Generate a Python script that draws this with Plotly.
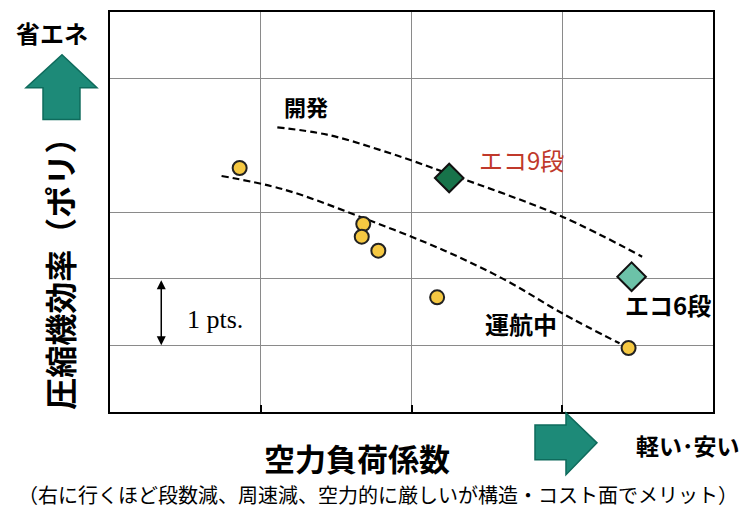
import plotly.graph_objects as go

# --- data (x: 空力負荷係数, y: 圧縮機効率, 1 unit = 1 pt) ---
fleet_x = [0.86, 1.68, 1.67, 1.78, 2.17, 3.44]
fleet_y = [3.66, 2.82, 2.63, 2.42, 1.72, 0.96]

eco9_x, eco9_y = [2.25], [3.51]
eco6_x, eco6_y = [3.46], [2.03]

dev_curve_x = [1.11, 1.44, 1.82, 2.25, 2.99, 3.53]
dev_curve_y = [4.27, 4.16, 3.91, 3.57, 2.94, 2.33]

ops_curve_x = [0.74, 1.15, 1.68, 2.22, 2.63, 3.00, 3.38]
ops_curve_y = [3.54, 3.34, 2.91, 2.42, 1.97, 1.48, 1.03]

x_grid = [1, 2, 3]
y_grid = [1, 2, 3, 5]

FONT = "Noto Sans CJK JP"
TEAL = "#1d8a78"
TEAL_EDGE = "#0e6b5c"

# page body adds an 8px margin, so work in screen pixels and shift back
OFF = 8
W, H = 756 - OFF, 512 - OFF
L_PX, R_PX, T_PX, B_PX = 110, 713, 10, 412   # plot frame on screen


def px(x, y):
    """screen pixel -> paper coords"""
    return (x - L_PX) / (R_PX - L_PX), (B_PX - y) / (B_PX - T_PX)


def poly_path(pts):
    pp = [px(x, y) for x, y in pts]
    return "M " + " L ".join(f"{a:.4f},{b:.4f}" for a, b in pp) + " Z"


fig = go.Figure()

for cx, cy in [(dev_curve_x, dev_curve_y), (ops_curve_x, ops_curve_y)]:
    fig.add_trace(go.Scatter(x=cx, y=cy, mode="lines", line_shape="spline",
                             line=dict(color="black", width=2.2, dash="7px,4px"),
                             hoverinfo="skip", showlegend=False))

fig.add_trace(go.Scatter(x=fleet_x, y=fleet_y, mode="markers", showlegend=False,
                         marker=dict(size=14, color="#f5c842",
                                     line=dict(color="#222", width=2))))
fig.add_trace(go.Scatter(x=eco9_x, y=eco9_y, mode="markers", showlegend=False,
                         marker=dict(size=22, symbol="diamond", color="#17734a",
                                     line=dict(color="#111", width=2))))
fig.add_trace(go.Scatter(x=eco6_x, y=eco6_y, mode="markers", showlegend=False,
                         marker=dict(size=22, symbol="diamond", color="#6cc2a8",
                                     line=dict(color="#111", width=2))))

# teal block arrows outside the plot
up_arrow = [(62, 53), (97, 86), (80, 86), (80, 118), (43, 118), (43, 86), (26, 86)]
right_arrow = [(535, 425), (566, 425), (566, 413), (597, 443), (566, 475), (566, 460), (535, 460)]
for pts in (up_arrow, right_arrow):
    fig.add_shape(type="path", xref="paper", yref="paper", path=poly_path(pts),
                  fillcolor=TEAL, line=dict(color=TEAL_EDGE, width=1.5), layer="above")

ann = []


def text(x, y, s, size, color="black", family=FONT, textangle=0, bold=True):
    x, y = px(x, y)
    ann.append(dict(x=x, y=y, xref="paper", yref="paper",
                    text=f"<b>{s}</b>" if bold else s, showarrow=False,
                    font=dict(family=family, size=size, color=color),
                    textangle=textangle, xanchor="center", yanchor="middle"))


text(306, 104, "開発", 22)
text(521, 158, "エコ9段", 24, color="#c0392b", bold=False)
text(668, 304, "エコ6段", 24)
text(521, 323, "運航中", 24)
text(215, 319, "1 pts.", 26, family="Liberation Serif", bold=False)

text(52, 31, "省エネ", 24)
text(59, 265, "圧縮機効率（ポリ）", 32, textangle=-90)
text(357, 458, "空力負荷係数", 31)
text(688, 445, "軽い･安い", 23)
text(378, 495, "（右に行くほど段数減、周速減、空力的に厳しいが構造・コスト面でメリット）", 20,
     bold=False)

# 1 pt scale bar
ann.append(dict(x=0.34, y=1.0, ax=0.34, ay=2.0, xref="x", yref="y", axref="x", ayref="y",
                text="", showarrow=True, arrowhead=2, arrowside="end+start",
                arrowsize=1.2, arrowwidth=1.5, arrowcolor="black"))

fig.update_layout(
    width=W, height=H,
    margin=dict(l=L_PX - OFF, r=756 - R_PX, t=T_PX - OFF, b=512 - B_PX),
    paper_bgcolor="white", plot_bgcolor="white",
    annotations=ann,
    font=dict(family=FONT),
)
fig.update_xaxes(range=[0, 4], tickvals=x_grid, showticklabels=False,
                 showgrid=True, gridcolor="#8a8a8a", gridwidth=1,
                 ticks="inside", ticklen=7, tickwidth=2, tickcolor="black",
                 showline=True, mirror=True, linecolor="black", linewidth=2, zeroline=False)
fig.update_yaxes(range=[0, 6], tickvals=y_grid, showticklabels=False,
                 showgrid=True, gridcolor="#8a8a8a", gridwidth=1, ticks="",
                 showline=True, mirror=True, linecolor="black", linewidth=2, zeroline=False)

fig.write_html("out.html")
